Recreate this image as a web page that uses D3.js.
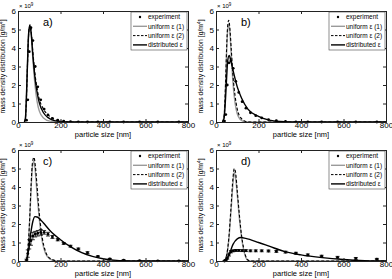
<!DOCTYPE html>
<html>
<head>
<meta charset="utf-8">
<script src="https://cdn.jsdelivr.net/npm/d3@7"></script>
<style>
  body { margin: 0; background: #fff; }
  text { font-family: "Liberation Sans", Arial, sans-serif; }
</style>
</head>
<body>
<svg id="fig" width="392" height="279"></svg>
<script>
var xTicks = [0, 200, 400, 600, 800];
var yTicks = [0, 1, 2, 3, 4, 5, 6];
var panelLabels = ["a)", "b)", "c)", "d)"];
var legendLabels = ["experiment", "uniform \u03b5 (1)", "uniform \u03b5 (2)", "distributed \u03b5"];

// measured sizes [nm] of the experiment points
var expSize = [40, 46, 53, 61, 70, 81, 93, 107, 123, 141, 162, 187, 215, 247, 284, 327, 376, 432, 497, 572, 658, 757];

// panel a
var expA = [0.1, 1.2, 3.8, 5.1, 4.4, 3.0, 1.9, 1.2, 0.7, 0.38, 0.2, 0.1, 0.05, 0.02, 0.01, 0, 0, 0, 0, 0, 0, 0];
var uni1A = [[30, 0], [35, 0.2], [40, 1.4], [45, 3.2], [50, 4.7], [56, 5.25], [62, 4.8], [70, 3.4], [80, 2.0], [90, 1.1], [100, 0.6], [120, 0.22], [150, 0.05], [200, 0], [800, 0]];
var uni2A = [[30, 0], [35, 0.2], [40, 1.4], [45, 3.2], [50, 4.7], [56, 5.25], [62, 4.9], [70, 3.8], [80, 2.6], [90, 1.8], [100, 1.25], [120, 0.7], [150, 0.3], [180, 0.1], [220, 0.02], [260, 0], [800, 0]];
var distA = [[30, 0], [35, 0.2], [40, 1.5], [45, 3.3], [50, 4.8], [56, 5.2], [62, 4.8], [70, 3.6], [80, 2.4], [90, 1.6], [100, 1.05], [120, 0.5], [140, 0.25], [160, 0.12], [200, 0.03], [250, 0], [800, 0]];

// panel b
var expB = [0.05, 0.4, 2.0, 3.2, 3.3, 2.9, 2.2, 1.6, 1.1, 0.75, 0.5, 0.34, 0.22, 0.13, 0.07, 0.03, 0.01, 0, 0, 0, 0, 0];
var uni1B = [[30, 0], [38, 0.3], [45, 2.0], [50, 3.8], [55, 5.0], [60, 5.3], [65, 4.9], [72, 3.6], [80, 2.1], [90, 1.0], [100, 0.45], [120, 0.08], [140, 0], [800, 0]];
var uni2B = [[30, 0], [38, 0.3], [45, 2.1], [50, 4.0], [55, 5.2], [60, 5.5], [65, 5.1], [72, 3.9], [80, 2.5], [90, 1.4], [100, 0.7], [120, 0.18], [140, 0.03], [160, 0], [800, 0]];
var distB = [[30, 0], [38, 0.2], [45, 1.3], [50, 2.4], [55, 3.3], [62, 3.6], [70, 3.3], [80, 2.8], [100, 1.9], [120, 1.3], [150, 0.7], [200, 0.3], [250, 0.1], [300, 0.03], [400, 0], [800, 0]];

// panel c
var expC = [0.05, 0.4, 0.9, 1.1, 1.35, 1.45, 1.5, 1.55, 1.55, 1.45, 1.3, 1.15, 0.95, 0.8, 0.65, 0.45, 0.25, 0.12, 0.05, 0.02, 0.01, 0];
var errC = [0.05, 0.2, 0.25, 0.25, 0.2, 0.15, 0.15, 0.15, 0.1, 0.1, 0.08, 0.06, 0.05, 0.05, 0.05, 0.05, 0.03, 0.02, 0.02, 0.01, 0.01, 0.01];
var uni1C = [[40, 0], [48, 0.8], [55, 2.2], [62, 4.0], [68, 5.1], [74, 5.4], [80, 5.0], [90, 3.6], [100, 2.3], [115, 1.0], [130, 0.4], [150, 0.1], [180, 0], [800, 0]];
var uni2C = [[40, 0], [48, 0.8], [55, 2.3], [62, 4.2], [68, 5.3], [75, 5.6], [82, 5.1], [90, 4.0], [100, 2.6], [115, 1.2], [130, 0.5], [150, 0.15], [180, 0.02], [200, 0], [800, 0]];
var distC = [[40, 0], [50, 0.6], [60, 1.5], [70, 2.15], [80, 2.4], [90, 2.38], [100, 2.3], [120, 2.05], [150, 1.65], [200, 1.15], [250, 0.75], [300, 0.45], [350, 0.25], [400, 0.12], [450, 0.05], [500, 0.01], [550, 0], [800, 0]];

// panel d
var expD = [0, 0.05, 0.15, 0.35, 0.5, 0.55, 0.57, 0.57, 0.56, 0.56, 0.55, 0.55, 0.55, 0.54, 0.52, 0.48, 0.42, 0.33, 0.26, 0.2, 0.14, 0.1];
var errD = [0.02, 0.03, 0.05, 0.08, 0.06, 0.05, 0.05, 0.05, 0.05, 0.05, 0.05, 0.05, 0.05, 0.05, 0.05, 0.05, 0.05, 0.05, 0.05, 0.05, 0.05, 0.04];
var uni1D = [[40, 0], [50, 0.3], [60, 1.1], [70, 2.6], [80, 4.2], [86, 4.8], [92, 4.5], [100, 3.6], [110, 2.3], [120, 1.3], [130, 0.6], [140, 0.2], [150, 0.04], [165, 0], [800, 0]];
var uni2D = [[40, 0], [50, 0.3], [60, 1.2], [70, 2.8], [80, 4.5], [86, 5.0], [92, 4.8], [100, 3.8], [110, 2.5], [120, 1.4], [130, 0.7], [140, 0.25], [150, 0.05], [165, 0], [800, 0]];
var distD = [[40, 0], [60, 0.3], [80, 0.9], [100, 1.2], [118, 1.27], [140, 1.22], [200, 1.0], [250, 0.8], [320, 0.52], [400, 0.33], [500, 0.18], [600, 0.08], [700, 0.02], [780, 0], [800, 0]];

var panels = [
  {left: 18, top: 11, exp: expA, err: null, uni1: uni1A, uni2: uni2A, dist: distA},
  {left: 216, top: 11, exp: expB, err: null, uni1: uni1B, uni2: uni2B, dist: distB},
  {left: 18, top: 150, exp: expC, err: errC, uni1: uni1C, uni2: uni2C, dist: distC},
  {left: 216, top: 150, exp: expD, err: errD, uni1: uni1D, uni2: uni2D, dist: distD}
];

var width = 170, height = 111;
var svg = d3.select("#fig");

var x = d3.scaleLinear().domain([0, 800]).range([0, width]);
var y = d3.scaleLinear().domain([0, 6]).range([height, 0]);

var line = d3.line()
    .x(function(d) { return x(d[0]); })
    .y(function(d) { return y(d[1]); })
    .curve(d3.curveMonotoneX);

panels.forEach(function(p, i) {
  var g = svg.append("g").attr("transform", "translate(" + p.left + "," + p.top + ")");

  // curves
  g.append("path").datum(p.uni1).attr("d", line)
      .attr("fill", "none").attr("stroke", "#9a9a9a").attr("stroke-width", 1.4);
  g.append("path").datum(p.uni2).attr("d", line)
      .attr("fill", "none").attr("stroke", "#000").attr("stroke-width", 1.1)
      .attr("stroke-dasharray", "3,2");
  g.append("path").datum(p.dist).attr("d", line)
      .attr("fill", "none").attr("stroke", "#000").attr("stroke-width", 1.4);

  // experiment points with error bars
  var pts = g.append("g");
  p.exp.forEach(function(v, k) {
    var cx = x(expSize[k]);
    if (p.err) {
      var e = p.err[k];
      pts.append("path")
          .attr("d", "M" + cx + "," + y(v - e) + "V" + y(v + e)
            + "M" + (cx - 2) + "," + y(v - e) + "h4"
            + "M" + (cx - 2) + "," + y(v + e) + "h4")
          .attr("stroke", "#000").attr("stroke-width", 0.8).attr("fill", "none");
    }
    pts.append("circle").attr("cx", cx).attr("cy", y(v)).attr("r", 1.4).attr("fill", "#000");
  });

  // axes
  var ax = d3.axisBottom(x).tickValues(xTicks).tickSize(-3).tickPadding(1).tickFormat(d3.format("d"));
  var ay = d3.axisLeft(y).tickValues(yTicks).tickSize(-3).tickPadding(2).tickFormat(d3.format("d"));
  var gx = g.append("g").attr("transform", "translate(0," + height + ")").call(ax);
  var gy = g.append("g").call(ay);
  g.append("g").call(d3.axisTop(x).tickValues(xTicks).tickSize(-3).tickFormat(""));
  g.append("g").attr("transform", "translate(" + width + ",0)")
      .call(d3.axisRight(y).tickValues(yTicks).tickSize(-3).tickFormat(""));
  g.selectAll(".domain").attr("stroke", "#222");
  g.selectAll(".tick line").attr("stroke", "#222");
  g.selectAll(".tick text").attr("font-size", 8).attr("fill", "#000");
  gx.selectAll(".tick text").attr("dy", "0.6em");

  // exponent
  var ex = g.append("text").attr("x", 1).attr("y", -3).attr("font-size", 6);
  ex.append("tspan").text("\u00d7 10");
  ex.append("tspan").attr("font-size", 4.5).attr("dy", -2.5).text("9");

  // axis labels
  g.append("text").attr("x", width / 2).attr("y", height + 15)
      .attr("text-anchor", "middle").attr("font-size", 7.5).text("particle size [nm]");
  var yl = g.append("text")
      .attr("transform", "translate(-13," + (height / 2) + ") rotate(-90)")
      .attr("text-anchor", "middle").attr("font-size", 6.8);
  yl.append("tspan").text("mass density distribution [g/m");
  yl.append("tspan").attr("font-size", 4.8).attr("dy", -2).text("4");
  yl.append("tspan").attr("dy", 2).text("]");

  // panel label
  g.append("text").attr("x", 25).attr("y", 15).attr("font-size", 11).text(panelLabels[i]);

  // legend
  var lw = 56, lh = 38;
  var lg = g.append("g").attr("transform", "translate(" + (width - lw - 1) + ",1)");
  lg.append("rect").attr("width", lw).attr("height", lh)
      .attr("fill", "#fff").attr("stroke", "#444").attr("stroke-width", 0.6);
  legendLabels.forEach(function(t, k) {
    var yy = 5 + k * 9.3;
    if (k === 0) {
      lg.append("circle").attr("cx", 9).attr("cy", yy).attr("r", 1.2).attr("fill", "#000");
    } else {
      lg.append("line").attr("x1", 2).attr("x2", 16).attr("y1", yy).attr("y2", yy)
          .attr("stroke", k === 1 ? "#9a9a9a" : "#000")
          .attr("stroke-width", k === 2 ? 1 : 1.4)
          .attr("stroke-dasharray", k === 2 ? "2.5,1.5" : null);
    }
    lg.append("text").attr("x", 17).attr("y", yy + 2.3).attr("font-size", 6.5).text(t);
  });
});
</script>
</body>
</html>
